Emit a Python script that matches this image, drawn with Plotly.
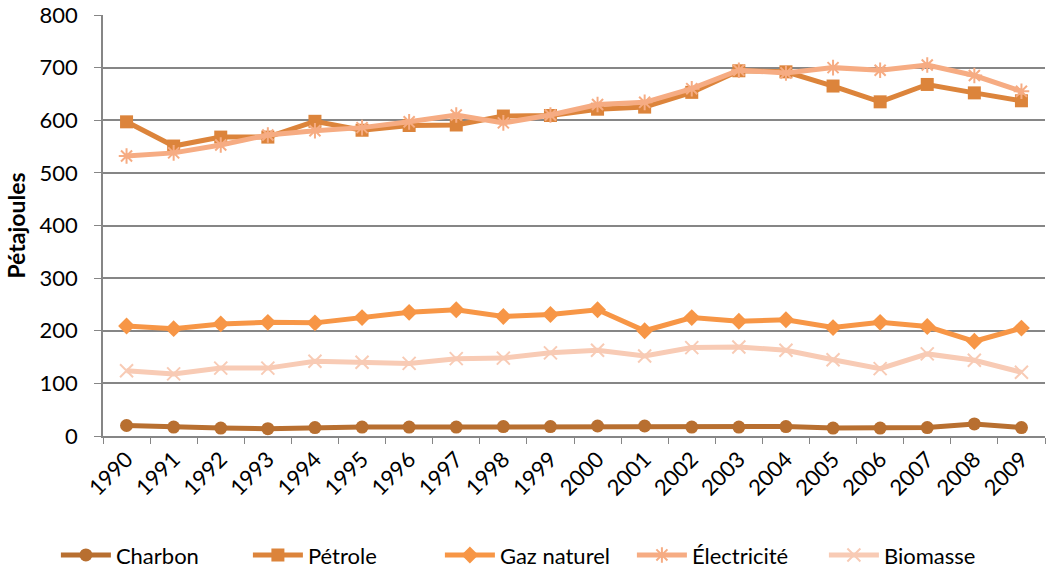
import plotly.graph_objects as go

years = [str(y) for y in range(1990, 2010)]
charbon = [20, 17, 15, 14, 16, 17, 17, 17, 18, 18, 19, 19, 17, 17, 18, 15, 15, 16, 23, 16]
petrole = [597, 551, 568, 568, 598, 581, 590, 591, 608, 609, 621, 625, 653, 694, 692, 665, 635, 668, 652, 637]
gaz = [209, 204, 213, 216, 215, 225, 235, 240, 227, 231, 240, 200, 225, 218, 221, 206, 216, 208, 180, 205]
electricite = [532, 538, 553, 572, 580, 586, 597, 610, 595, 610, 630, 634, 660, 695, 690, 700, 695, 705, 685, 655]
biomasse = [124, 118, 129, 129, 142, 140, 138, 147, 148, 158, 163, 152, 168, 169, 163, 145, 128, 156, 144, 121]

series = [
    ("Charbon", charbon, "#B86F30", "circle"),
    ("Pétrole", petrole, "#DC843B", "square"),
    ("Gaz naturel", gaz, "#F79646", "diamond"),
    ("Électricité", electricite, "#F6AC83", "asterisk-open"),
    ("Biomasse", biomasse, "#F8CBB5", "x-thin-open"),
]

fig = go.Figure()
for name, vals, col, sym in series:
    marker = dict(symbol=sym, size=13, color=col)
    if sym.endswith("open"):
        marker["line"] = dict(color=col, width=2)
    fig.add_trace(go.Scatter(
        x=years, y=vals, name=name, mode="lines+markers",
        line=dict(color=col, width=5), marker=marker,
    ))

fig.update_layout(
    width=1048, height=569,
    margin=dict(l=103, r=3, t=15, b=133, autoexpand=False),
    paper_bgcolor="white", plot_bgcolor="white",
    font=dict(family="Lato, Open Sans, sans-serif", size=22, color="#000000"),
    showlegend=True,
    legend=dict(orientation="h", x=-0.05, xanchor="left", y=-0.283, yanchor="middle",
                font=dict(size=22), tracegroupgap=0, itemwidth=50,
                entrywidth=127, entrywidthmode="pixels"),
    xaxis=dict(type="category", range=[-0.5, 19.5], tickangle=-45, automargin=False,
               showline=True, linecolor="#868686", linewidth=1.5,
               ticks="outside", tickson="boundaries", ticklen=6, tickcolor="#868686",
               showgrid=False, tickfont=dict(size=22)),
    yaxis=dict(range=[0, 800], dtick=100, automargin=False,
               showline=True, linecolor="#868686", linewidth=1.5,
               ticks="outside", ticklen=7, tickcolor="#868686", ticklabelstandoff=12,
               ticklabeloverflow="allow",
               showgrid=True, gridcolor="#868686", gridwidth=1.5, zeroline=False,
               title=dict(text="<b>Pétajoules</b>", font=dict(size=23), standoff=8),
               tickfont=dict(size=22)),
)

fig.write_html("out.html", config={"displayModeBar": False},
               post_script="document.body.style.margin='0';document.body.style.overflow='hidden';")
